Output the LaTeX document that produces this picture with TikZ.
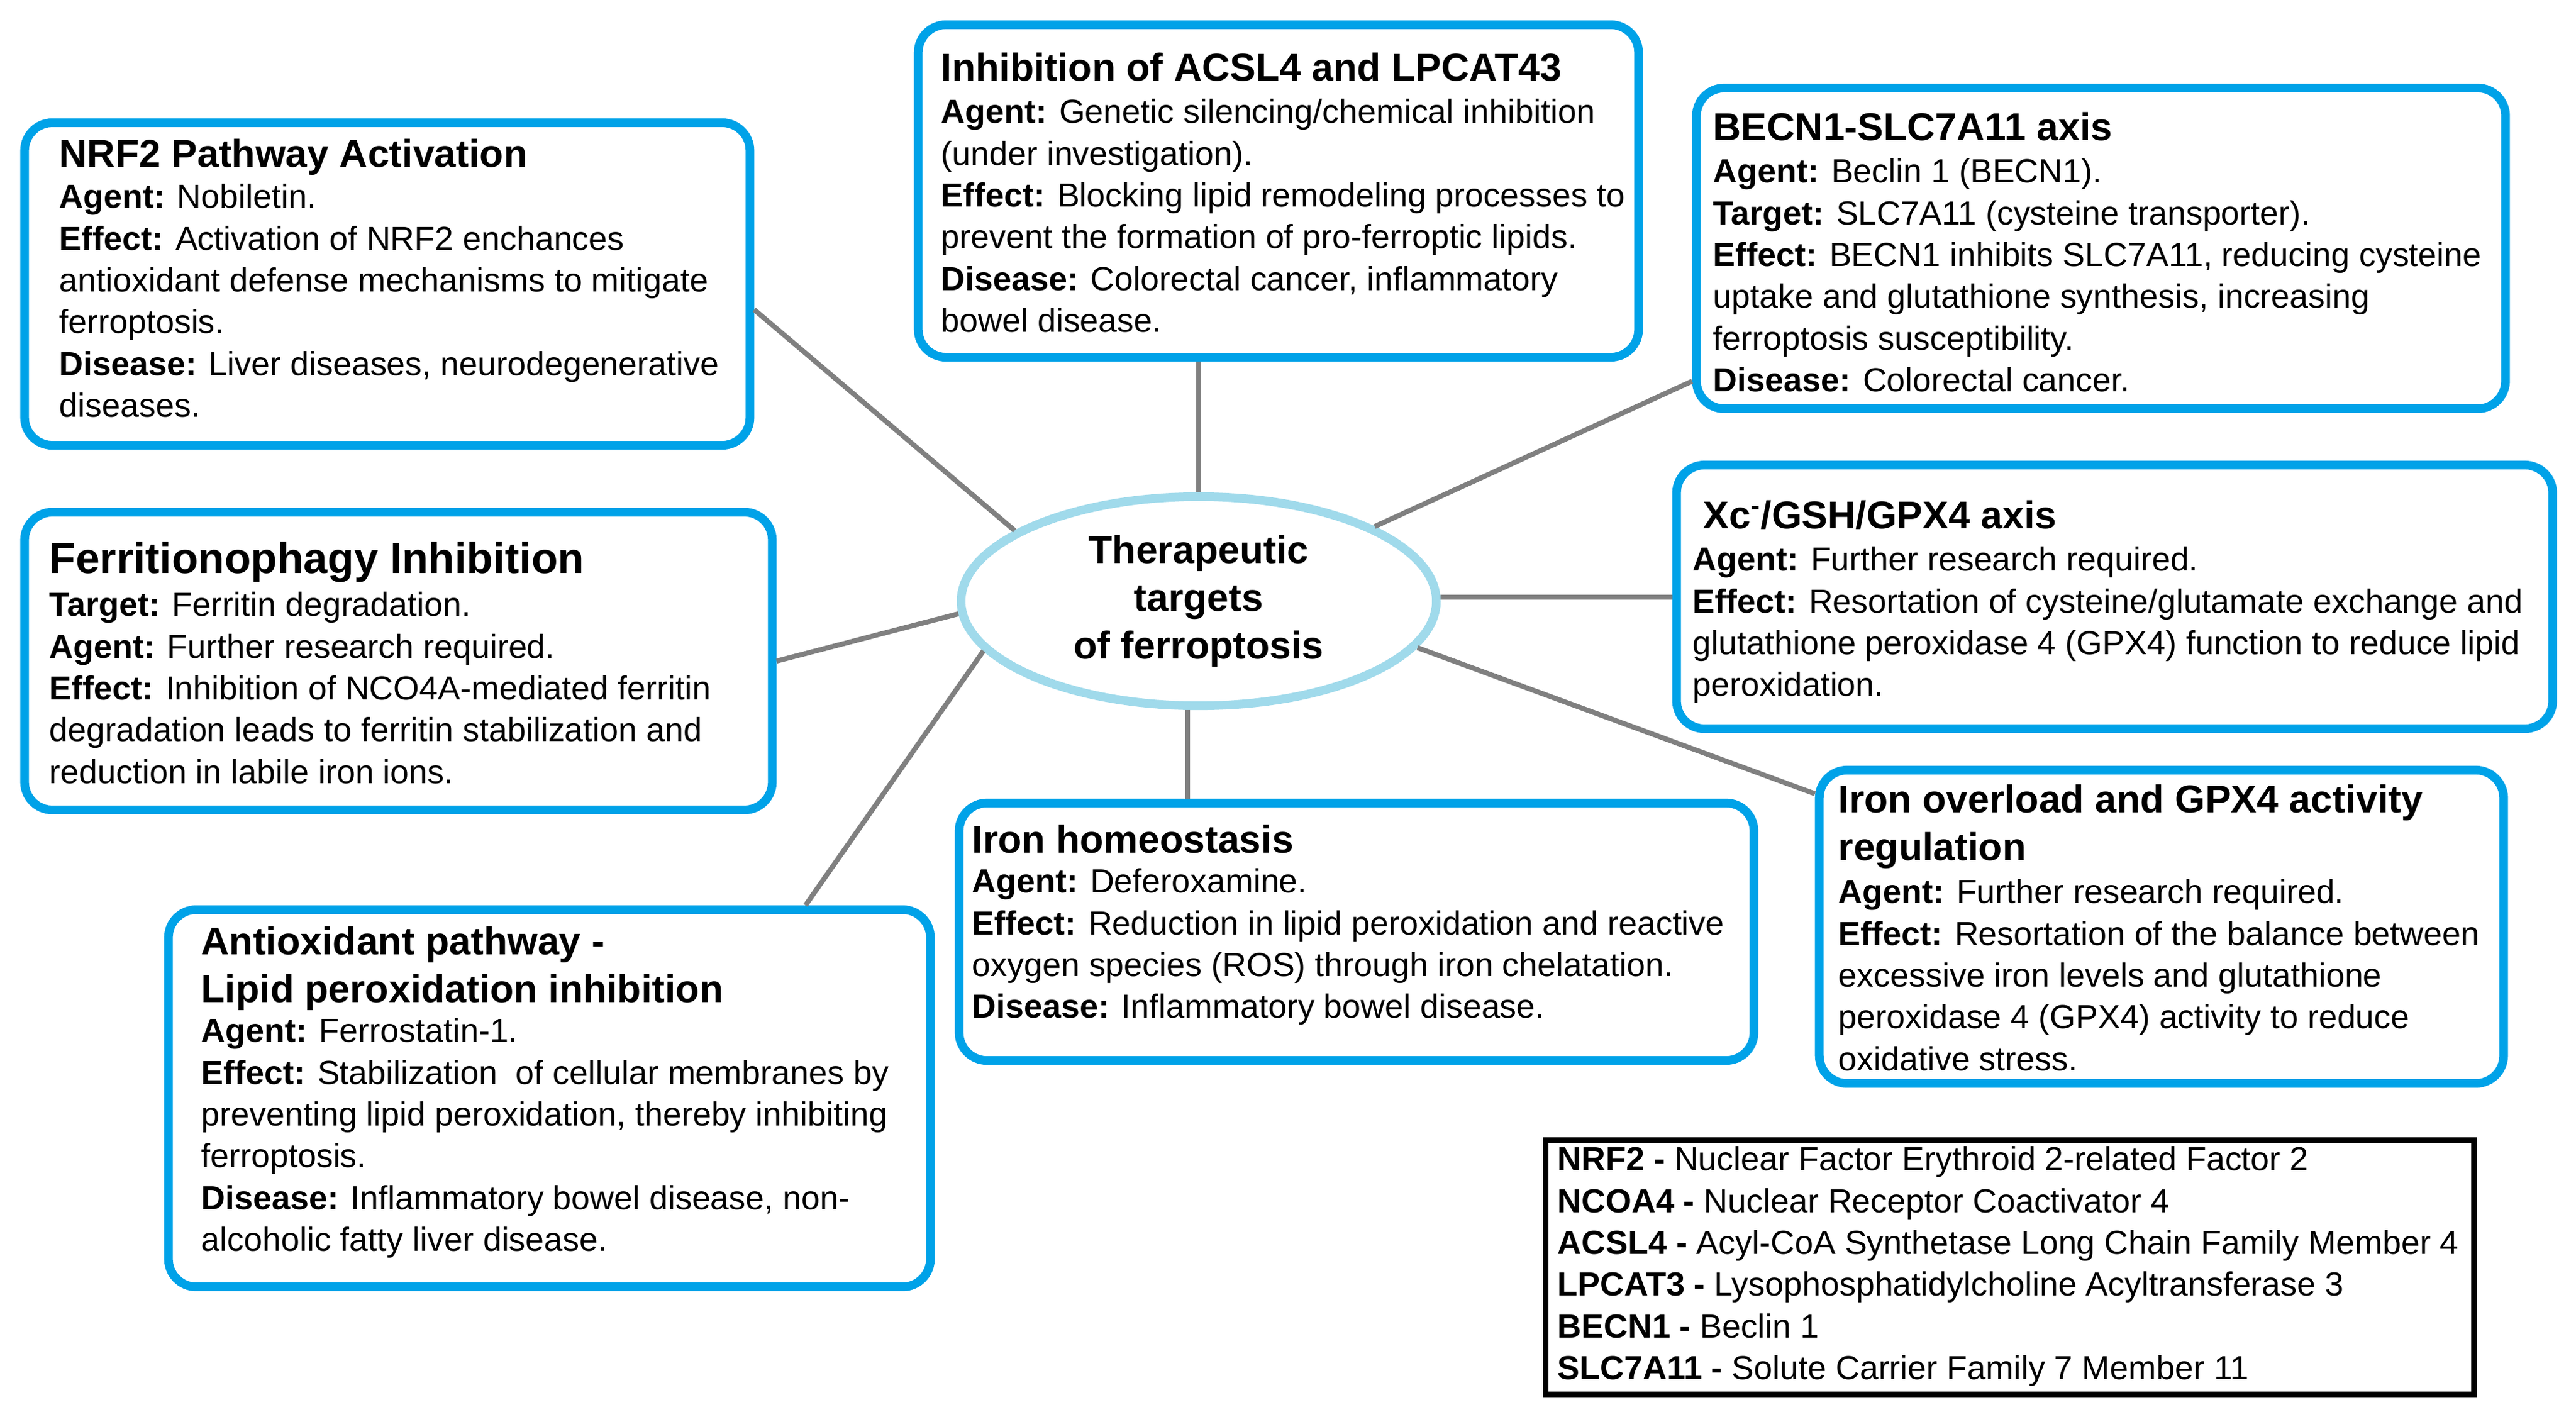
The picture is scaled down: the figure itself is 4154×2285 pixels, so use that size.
\documentclass[tikz,border=0pt]{standalone}
\usepackage{fontspec}
\setmainfont{Liberation Sans}
\usetikzlibrary{shapes.geometric}
\definecolor{cardblue}{RGB}{0,162,232}
\definecolor{ringblue}{RGB}{160,218,235}
\definecolor{linkgray}{RGB}{128,128,128}
\newcommand\bodyfont{\fontsize{15.3}{19.17}\selectfont}
\newcommand\titlefont{\fontsize{17.8}{21.7}\selectfont\bfseries}
\newcommand\bigtitlefont{\fontsize{19.8}{21.7}\selectfont\bfseries}
\newcommand\ringfont{\fontsize{17.8}{21.9}\selectfont\bfseries}
\tikzset{
  card/.style={rectangle, draw=cardblue, line width=0.14cm, rounded corners=0.45cm, inner sep=0pt},
  keybox/.style={rectangle, draw=black, line width=0.09cm, inner sep=0pt},
  ring/.style={ellipse, draw=ringblue, line width=0.14cm, inner sep=0pt, align=center, font=\ringfont},
  heading/.style={anchor=north west, inner sep=0pt, align=left, font=\titlefont},
  bodytext/.style={anchor=north west, inner sep=0pt, align=left, font=\bodyfont},
  link/.style={draw=linkgray, line width=0.08cm},
}
\begin{document}
\begin{tikzpicture}[x=0.01cm, y=-0.01cm]
\useasboundingbox (0,0) rectangle (4154,2285);

% central ellipse
\node[ring, minimum width=7.66cm, minimum height=3.37cm] (ell) at (1933,969.5) {Therapeutic\\targets\\of ferroptosis};

% boxes
\node[card, minimum width=11.69cm, minimum height=5.20cm] (nrf2) at (624.5,458) {};
\node[card, minimum width=11.61cm, minimum height=5.36cm] (acsl) at (2061.5,308) {};
\node[card, minimum width=13.04cm, minimum height=5.17cm] (becn) at (3388,400.5) {};
\node[card, minimum width=12.05cm, minimum height=4.80cm] (ferr) at (642.5,1066) {};
\node[card, minimum width=14.12cm, minimum height=4.25cm] (xc) at (3410,962.5) {};
\node[card, minimum width=12.28cm, minimum height=6.08cm] (anti) at (886,1771) {};
\node[card, minimum width=12.81cm, minimum height=4.15cm] (ihom) at (2187.5,1502.5) {};
\node[card, minimum width=11.03cm, minimum height=5.05cm] (iov) at (3485.5,1494.5) {};
\node[keybox, minimum width=14.97cm, minimum height=4.10cm] (key) at (3241,2043.5) {};

% NRF2
\node[heading] (nrf2t) at (95,215.6) {\strut NRF2 Pathway Activation};
\node[bodytext] (nrf2b) at (95,287.8) {\strut\textbf{Agent:} Nobiletin.\\
\textbf{Effect:} Activation of NRF2 enchances\\
antioxidant defense mechanisms to mitigate\\
ferroptosis.\\
\textbf{Disease:} Liver diseases, neurodegenerative\\
diseases.};

% ACSL4
\node[heading] (acslt) at (1517,76.6) {\strut Inhibition of ACSL4 and LPCAT43};
\node[bodytext] (acslb) at (1517,150.8) {\strut\textbf{Agent:} Genetic silencing/chemical inhibition\\
(under investigation).\\
\textbf{Effect:} Blocking lipid remodeling processes to\\
prevent the formation of pro-ferroptic lipids.\\
\textbf{Disease:} Colorectal cancer, inflammatory\\
bowel disease.};

% BECN1
\node[heading] (becnt) at (2762,172.6) {\strut BECN1-SLC7A11 axis};
\node[bodytext] (becnb) at (2762,246.8) {\strut\textbf{Agent:} Beclin 1 (BECN1).\\
\textbf{Target:} SLC7A11 (cysteine transporter).\\
\textbf{Effect:} BECN1 inhibits SLC7A11, reducing cysteine\\
uptake and glutathione synthesis, increasing\\
ferroptosis susceptibility.\\
\textbf{Disease:} Colorectal cancer.};

% Ferritinophagy
\node[heading, font=\bigtitlefont] (ferrt) at (79,870.6) {\strut Ferritionophagy Inhibition};
\node[bodytext] (ferrb) at (79,945.8) {\strut\textbf{Target:} Ferritin degradation.\\
\textbf{Agent:} Further research required.\\
\textbf{Effect:} Inhibition of NCO4A-mediated ferritin\\
degradation leads to ferritin stabilization and\\
reduction in labile iron ions.};

% Xc
\node[heading] (xct) at (2746,798.6) {\strut Xc\textsuperscript{-}/GSH/GPX4 axis};
\node[bodytext] (xcb) at (2729,872.8) {\strut\textbf{Agent:} Further research required.\\
\textbf{Effect:} Resortation of cysteine/glutamate exchange and\\
glutathione peroxidase 4 (GPX4) function to reduce lipid\\
peroxidation.};

% Antioxidant
\node[heading] (antit) at (324,1485.6) {\strut Antioxidant pathway -\\Lipid peroxidation inhibition};
\node[bodytext] (antib) at (324,1632.8) {\strut\textbf{Agent:} Ferrostatin-1.\\
\textbf{Effect:} Stabilization\ \ of cellular membranes by\\
preventing lipid peroxidation, thereby inhibiting\\
ferroptosis.\\
\textbf{Disease:} Inflammatory bowel disease, non-\\
alcoholic fatty liver disease.};

% Iron homeostasis
\node[heading] (ihomt) at (1567,1321.6) {\strut Iron homeostasis};
\node[bodytext] (ihomb) at (1567,1391.8) {\strut\textbf{Agent:} Deferoxamine.\\
\textbf{Effect:} Reduction in lipid peroxidation and reactive\\
oxygen species (ROS) through iron chelatation.\\
\textbf{Disease:} Inflammatory bowel disease.};

% Iron overload
\node[heading] (iovt) at (2964,1256.6) {\strut Iron overload and GPX4 activity\\regulation};
\node[bodytext] (iovb) at (2964,1408.8) {\strut\textbf{Agent:} Further research required.\\
\textbf{Effect:} Resortation of the balance between\\
excessive iron levels and glutathione\\
peroxidase 4 (GPX4) activity to reduce\\
oxidative stress.};

% Legend
\node[bodytext] (keyt) at (2511,1839.8) {\strut\textbf{NRF2 -} Nuclear Factor Erythroid 2-related Factor 2\\
\textbf{NCOA4 -} Nuclear Receptor Coactivator 4\\
\textbf{ACSL4 -} Acyl-CoA Synthetase Long Chain Family Member 4\\
\textbf{LPCAT3 -} Lysophosphatidylcholine Acyltransferase 3\\
\textbf{BECN1 -} Beclin 1\\
\textbf{SLC7A11 -} Solute Carrier Family 7 Member 11};

% connectors
\draw[link] (nrf2.-4) -- (ell.159);
\draw[link] (ell.north) -- (ell.north |- acsl.south);
\draw[link] (ell.23) -- (becn.-162);
\draw[link] (ell.1) -- (ell.1 -| xc.west);
\draw[link] (ell.-12) -- (iov.159);
\draw[link] (ell.-96) -- (ell.-96 |- ihom.north);
\draw[link] (ell.-167) -- (anti.37);
\draw[link] (ell.-177) -- (ferr.east);
\end{tikzpicture}
\end{document}
